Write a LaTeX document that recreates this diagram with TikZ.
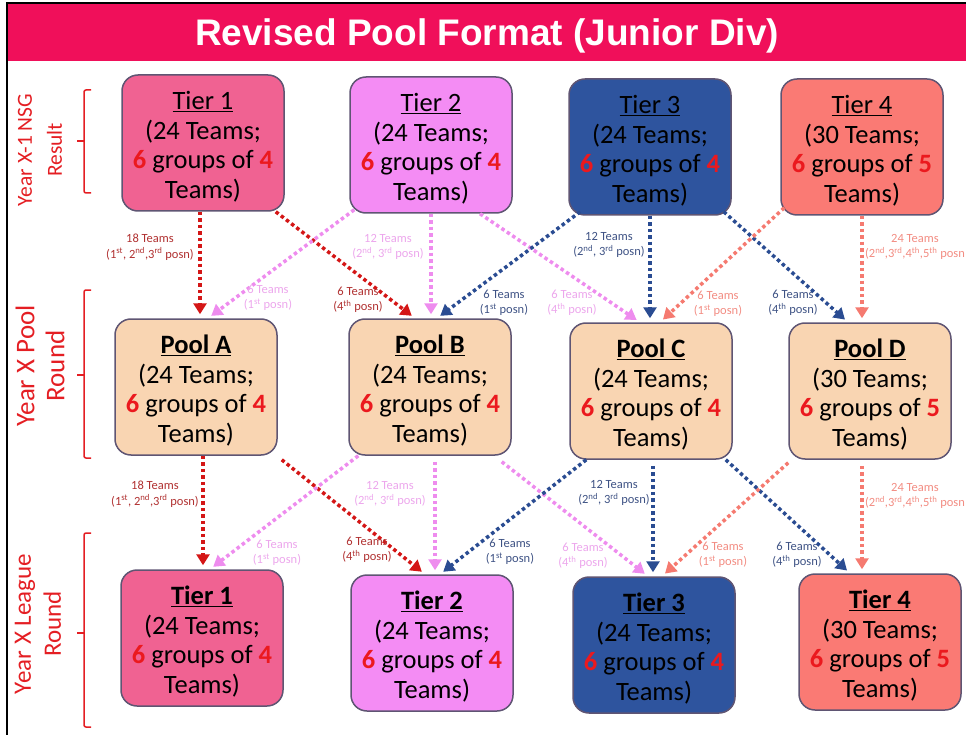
\documentclass[tikz,border=0pt]{standalone}
\usepackage{fontspec}
\setmainfont{Carlito}
\newfontfamily\bannerFont{Liberation Sans}
\usetikzlibrary{arrows.meta}
\definecolor{bannerPink}{RGB}{240,15,90}
\definecolor{boxEdge}{RGB}{95,85,115}
\definecolor{numRed}{RGB}{235,25,30}
\definecolor{sideRed}{RGB}{228,30,35}
\definecolor{fillTierOne}{RGB}{240,98,146}
\definecolor{fillTierTwo}{RGB}{244,140,244}
\definecolor{fillTierThree}{RGB}{46,84,158}
\definecolor{fillTierFour}{RGB}{250,122,116}
\definecolor{fillPool}{RGB}{249,213,178}
\definecolor{arrowRed}{RGB}{212,22,22}
\definecolor{arrowViolet}{RGB}{238,140,238}
\definecolor{arrowBlue}{RGB}{42,76,146}
\definecolor{arrowSalmon}{RGB}{245,122,112}
\definecolor{labelRed}{RGB}{176,48,48}
\definecolor{labelViolet}{RGB}{236,166,236}
\definecolor{labelBlue}{RGB}{62,82,132}
\definecolor{labelSalmon}{RGB}{242,140,130}
\newcommand{\ord}[2]{#1\textsuperscript{#2}}
\newcommand{\boxText}[3]{%
  \rule{0pt}{26pt}#1\\(#2 Teams;\\\textcolor{numRed}{\textbf{6}} groups of \textcolor{numRed}{\textbf{#3}}\\Teams)}
\newcommand{\moveText}[2]{#1 Teams\\(#2)}
\newcommand{\sideText}[3]{%
  \node[sideStyle,font=\fontsize{#3}{30}\selectfont] at (#1) {#2};
}
\newcommand{\sideBrace}[3]{%
  \draw[braceStyle] (91,#1) -- (84,#1) -- (84,#3) -- (91,#3);
  \draw[braceStyle] (84,#2) -- (77,#2);
}

\begin{document}
\begin{tikzpicture}[x=1pt,y=-1pt,
  boxStyle/.style={draw=boxEdge,line width=1.5pt,rounded corners=16pt,
    minimum width=162pt,minimum height=136pt,inner sep=0pt,align=center,
    font=\fontsize{26.5}{29.5}\selectfont},
  tierOneStyle/.style={boxStyle,fill=fillTierOne},
  tierTwoStyle/.style={boxStyle,fill=fillTierTwo},
  tierThreeStyle/.style={boxStyle,fill=fillTierThree},
  tierFourStyle/.style={boxStyle,fill=fillTierFour},
  poolStyle/.style={boxStyle,fill=fillPool},
  arrowStyle/.style={line width=3.5pt,dash pattern=on 3.5pt off 3pt,
    -{Triangle[width=13pt,length=11pt]},shorten >=4pt},
  redArrow/.style={arrowStyle,draw=arrowRed},
  violetArrow/.style={arrowStyle,draw=arrowViolet},
  blueArrow/.style={arrowStyle,draw=arrowBlue},
  salmonArrow/.style={arrowStyle,draw=arrowSalmon},
  labelStyle/.style={align=center,inner sep=0pt,font=\fontsize{12.5}{15.5}\selectfont},
  sideStyle/.style={rotate=90,align=center,text=sideRed},
  braceStyle/.style={draw=sideRed,line width=1.5pt,rounded corners=2pt}
]
\useasboundingbox (0,0) rectangle (966,735);
%
% The banner and the frame.
\fill[bannerPink] (8,4) rectangle (966,61);
\draw[line width=1.5pt] (7,735) -- (7,3) -- (966,3);
\node[text=white,font=\bannerFont\bfseries\fontsize{37}{40}\selectfont] (title) at (487,36)
  {Revised Pool Format (Junior Div)};
%
% The row names down the left.
\sideText{40,150}{Year X-1 NSG\\Result}{21.5}
\sideText{40,366}{Year X Pool\\Round}{27}
\sideText{38,624}{Year X League\\Round}{25}
\sideBrace{90}{141}{193}
\sideBrace{290}{375}{458}
\sideBrace{533}{633}{727}
%
% Last year's tiers.
\node[tierOneStyle] (topOne) at (203,143) {\boxText{\underline{Tier 1}}{24}{4}};
\node[tierTwoStyle] (topTwo) at (431,145) {\boxText{\underline{Tier 2}}{24}{4}};
\node[tierThreeStyle] (topThree) at (650,147) {\boxText{\underline{Tier 3}}{24}{4}};
\node[tierFourStyle] (topFour) at (862,147) {\boxText{\underline{Tier 4}}{30}{5}};
% The pools.
\node[poolStyle] (poolA) at (196,387) {\boxText{\textbf{\underline{Pool A}}}{24}{4}};
\node[poolStyle] (poolB) at (430,387) {\boxText{\textbf{\underline{Pool B}}}{24}{4}};
\node[poolStyle] (poolC) at (651,391) {\boxText{\textbf{\underline{Pool C}}}{24}{4}};
\node[poolStyle] (poolD) at (870,391) {\boxText{\textbf{\underline{Pool D}}}{30}{5}};
% This year's tiers.
\node[tierOneStyle] (lowOne) at (202,638) {\boxText{\textbf{\underline{Tier 1}}}{24}{4}};
\node[tierTwoStyle] (lowTwo) at (432,643) {\boxText{\textbf{\underline{Tier 2}}}{24}{4}};
\node[tierThreeStyle] (lowThree) at (654,645) {\boxText{\textbf{\underline{Tier 3}}}{24}{4}};
\node[tierFourStyle] (lowFour) at (880,642) {\boxText{\textbf{\underline{Tier 4}}}{30}{5}};
%
% Tiers to pools.
\draw[redArrow] ([xshift=-3pt]topOne.south) -- ([xshift=-3pt]topOne.south |- poolA.north);
\draw[redArrow] ([xshift=-9pt]topOne.south east) -- ([xshift=-15pt]poolB.north);
\draw[violetArrow] ([xshift=5pt,yshift=4pt]topTwo.south west) -- ([xshift=12pt]poolA.north);
\draw[violetArrow] (topTwo.south) -- (topTwo.south |- poolB.north);
\draw[violetArrow] ([xshift=49pt]topTwo.south) -- ([xshift=-11pt]poolC.north);
\draw[blueArrow] ([xshift=12pt,yshift=4pt]topThree.south west) -- ([xshift=7pt]poolB.north);
\draw[blueArrow] (topThree.south) -- (topThree.south |- poolC.north);
\draw[blueArrow] ([xshift=-8pt,yshift=4pt]topThree.south east) -- ([xshift=-22pt]poolD.north);
\draw[salmonArrow] ([xshift=4pt,yshift=8pt]topFour.south west) -- ([xshift=9pt]poolC.north);
\draw[salmonArrow] (topFour.south) -- (topFour.south |- poolD.north);
\node[labelStyle,text=labelRed] (lblOneDown) at (150,247)
  {\moveText{18}{\ord{1}{st}, \ord{2}{nd},\ord{3}{rd} posn}};
\node[labelStyle,text=labelRed] (lblOneOver) at (358,300) {\moveText{6}{\ord{4}{th} posn}};
\node[labelStyle,text=labelViolet] (lblTwoDown) at (388,247) {\moveText{12}{\ord{2}{nd}, \ord{3}{rd} posn}};
\node[labelStyle,text=labelViolet] (lblTwoBack) at (268,298) {\moveText{6}{\ord{1}{st} posn}};
\node[labelStyle,text=labelViolet] (lblTwoOver) at (572,303) {\moveText{6}{\ord{4}{th} posn}};
\node[labelStyle,text=labelBlue] (lblThreeBack) at (504,303) {\moveText{6}{\ord{1}{st} posn}};
\node[labelStyle,text=labelBlue] (lblThreeDown) at (609,245) {\moveText{12}{\ord{2}{nd}, \ord{3}{rd} posn}};
\node[labelStyle,text=labelBlue] (lblThreeOver) at (793,303) {\moveText{6}{\ord{4}{th} posn}};
\node[labelStyle,text=labelSalmon] (lblFourBack) at (718,304) {\moveText{6}{\ord{1}{st} posn}};
\node[labelStyle,text=labelSalmon] (lblFourDown) at (915,247)
  {24 Teams\\(\ord{2}{nd},\ord{3}{rd},\ord{4}{th},\ord{5}{th} posn};
%
% Pools to tiers.
\draw[redArrow] ([xshift=7pt]poolA.south) -- ([xshift=7pt]poolA.south |- lowOne.north);
\draw[redArrow] ([xshift=4pt,yshift=-4pt]poolA.south east) -- ([xshift=-7pt]lowTwo.north);
\draw[violetArrow] ([xshift=10pt]poolB.south west) -- ([xshift=8pt]lowOne.north);
\draw[violetArrow] ([xshift=5pt,yshift=-6pt]poolB.south) -- ([xshift=5pt]poolB.south |- lowTwo.north);
\draw[violetArrow] ([xshift=-10pt,yshift=-6pt]poolB.south east) -- ([xshift=-6pt]lowThree.north);
\draw[blueArrow] ([xshift=17pt]poolC.south west) -- ([xshift=8pt]lowTwo.north);
\draw[blueArrow] ([xshift=2pt,yshift=-6pt]poolC.south) -- ([xshift=2pt]poolC.south |- lowThree.north);
\draw[blueArrow] ([xshift=-7pt]poolC.south east) -- ([xshift=-30pt]lowFour.north);
\draw[salmonArrow] ([yshift=-3pt]poolD.south west) -- ([xshift=8pt]lowThree.north);
\draw[salmonArrow] ([xshift=-8pt,yshift=-6pt]poolD.south) -- ([xshift=-8pt]poolD.south |- lowFour.north);
\node[labelStyle,text=labelRed] (lblPoolADown) at (155,494)
  {\moveText{18}{\ord{1}{st}, \ord{2}{nd},\ord{3}{rd} posn}};
\node[labelStyle,text=labelRed] (lblPoolAOver) at (367,550) {\moveText{6}{\ord{4}{th} posn}};
\node[labelStyle,text=labelViolet] (lblPoolBDown) at (390,494) {\moveText{12}{\ord{2}{nd}, \ord{3}{rd} posn}};
\node[labelStyle,text=labelViolet] (lblPoolBBack) at (277,553) {\moveText{6}{\ord{1}{st} posn}};
\node[labelStyle,text=labelViolet] (lblPoolBOver) at (583,556) {\moveText{6}{\ord{4}{th} posn}};
\node[labelStyle,text=labelBlue] (lblPoolCBack) at (510,552) {\moveText{6}{\ord{1}{st} posn}};
\node[labelStyle,text=labelBlue] (lblPoolCDown) at (614,493) {\moveText{12}{\ord{2}{nd}, \ord{3}{rd} posn}};
\node[labelStyle,text=labelBlue] (lblPoolCOver) at (797,555) {\moveText{6}{\ord{4}{th} posn}};
\node[labelStyle,text=labelSalmon] (lblPoolDBack) at (723,555) {\moveText{6}{\ord{1}{st} posn}};
\node[labelStyle,text=labelSalmon] (lblPoolDDown) at (915,496)
  {24 Teams\\(\ord{2}{nd},\ord{3}{rd},\ord{4}{th},\ord{5}{th} posn};
\end{tikzpicture}
\end{document}
